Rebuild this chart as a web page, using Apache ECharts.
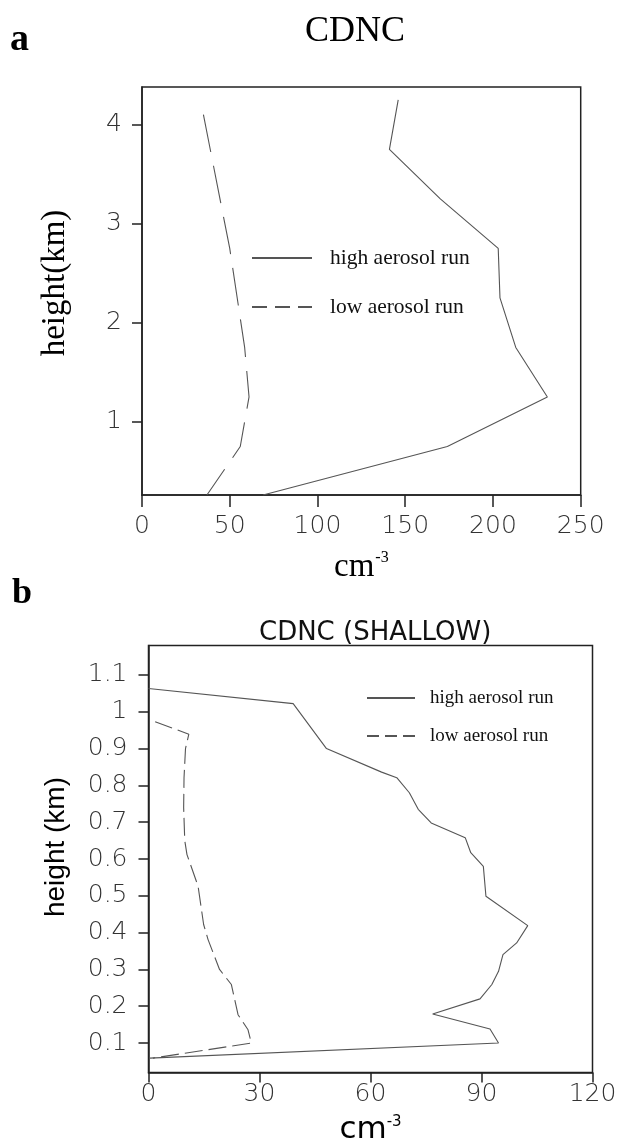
<!DOCTYPE html>
<html>
<head>
<meta charset="utf-8">
<script src="https://cdn.jsdelivr.net/npm/echarts@6/dist/echarts.min.js"></script>
<style>
  html, body { margin: 0; padding: 0; background: #fff; }
  #chart { width: 619px; height: 1138px; }
</style>
</head>
<body>
<div id="chart"></div>
<script>
// Panel a: CDNC profiles (cm^-3) against height (km)
const heightA_high = [4.25, 3.75, 3.25, 2.75, 2.25, 1.75, 1.25, 0.75, 0.26];
const cdncA_high   = [146, 141, 170, 203, 204, 213, 231, 174, 69];
const heightA_low  = [4.1, 2.75, 1.75, 1.25, 0.75, 0.26];
const cdncA_low    = [35, 50, 58.5, 61, 56, 37];
const ticksA_y     = [1, 2, 3, 4];

// Panel b: shallow-cloud CDNC profiles
const heightB_high = [1.063, 1.022, 0.900, 0.836, 0.821, 0.780, 0.735, 0.698, 0.658, 0.617, 0.580,
                      0.499, 0.419, 0.372, 0.340, 0.295, 0.259, 0.220, 0.179, 0.138, 0.100, 0.059];
const cdncB_high   = [0, 39.1, 48.1, 63.0, 67.1, 70.5, 72.9, 76.4, 85.6, 87.1, 90.5,
                      91.2, 102.5, 99.5, 95.8, 94.6, 92.8, 89.6, 76.8, 92.3, 94.6, 0.3];
const heightB_low  = [0.973, 0.939, 0.900, 0.820, 0.740, 0.650, 0.612, 0.526, 0.422, 0.381,
                      0.300, 0.259, 0.177, 0.136, 0.100, 0.059];
const cdncB_low    = [1.8, 10.9, 10.0, 9.6, 9.5, 9.8, 10.4, 13.4, 14.9, 16.1,
                      19.2, 22.4, 24.2, 26.9, 27.8, 1.2];
const ticksB_y     = [0.1, 0.2, 0.3, 0.4, 0.5, 0.6, 0.7, 0.8, 0.9, 1.0, 1.1];

const seriesNames = ['high aerosol run', 'low aerosol run'];

const pairs = (xs, ys) => xs.map((x, i) => [x, ys[i]]);

const SERIF = '"Liberation Serif", "Times New Roman", serif';
const SANS = '"DejaVu Sans", sans-serif';
const AXIS_COLOR = '#222';
const LINE_COLOR = '#555';

function tickLabelStyle(margin) {
  return { fontFamily: SANS, fontWeight: 200, fontSize: 25, color: '#333', margin: margin };
}

const chart = echarts.init(document.getElementById('chart'), null, { renderer: 'canvas' });

chart.setOption({
  animation: false,
  backgroundColor: '#fff',
  title: [
    { text: 'a', left: 10, top: 21, padding: 0,
      textStyle: { fontFamily: SERIF, fontWeight: 'bold', fontSize: 38, color: '#000' } },
    { text: 'CDNC', left: 305, top: 14, padding: 0,
      textStyle: { fontFamily: SERIF, fontWeight: 'normal', fontSize: 36, color: '#000' } },
    { text: 'b', left: 12, top: 576, padding: 0,
      textStyle: { fontFamily: SERIF, fontWeight: 'bold', fontSize: 36, color: '#000' } },
    { text: 'CDNC (SHALLOW)', left: 259, top: 620, padding: 0,
      textStyle: { fontFamily: SANS, fontWeight: 'normal', fontSize: 26, color: '#111' } }
  ],
  legend: [
    {
      orient: 'vertical', left: 251, top: 246, padding: 0,
      itemWidth: 60, itemHeight: 14, itemGap: 25,
      selectedMode: false,
      itemStyle: { opacity: 0 },
      textStyle: { fontFamily: SERIF, fontSize: 21.5, lineHeight: 24, color: '#111', padding: [0, 0, 0, 13] },
      data: [
        { name: seriesNames[0] },
        { name: seriesNames[1], lineStyle: { type: [15, 8] } }
      ]
    },
    {
      orient: 'vertical', left: 366, top: 688, padding: 0,
      itemWidth: 48, itemHeight: 12, itemGap: 18,
      selectedMode: false,
      itemStyle: { opacity: 0 },
      textStyle: { fontFamily: SERIF, fontSize: 19, lineHeight: 20, color: '#111', padding: [0, 0, 0, 10] },
      data: [
        { name: seriesNames[0] + ' ' },
        { name: seriesNames[1] + ' ', lineStyle: { type: [12, 6] } }
      ]
    }
  ],
  grid: [
    { left: 142, top: 87, width: 438.7, height: 408, show: true, outerBoundsMode: 'none',
      borderColor: AXIS_COLOR, borderWidth: 1.5, backgroundColor: 'transparent' },
    { left: 148.5, top: 645.5, width: 444, height: 427, show: true, outerBoundsMode: 'none',
      borderColor: AXIS_COLOR, borderWidth: 1.5, backgroundColor: 'transparent' }
  ],
  xAxis: [
    {
      gridIndex: 0, type: 'value', min: 0, max: 250, interval: 50,
      axisLine: { show: true, onZero: false, lineStyle: { color: AXIS_COLOR, width: 1.5 } },
      axisTick: { show: true, length: 12, lineStyle: { color: AXIS_COLOR, width: 1.5 } },
      splitLine: { show: false },
      axisLabel: tickLabelStyle(19),
      name: '{m|cm}{s|-3}', nameLocation: 'middle', nameGap: 55,
      nameTextStyle: {
        rich: {
          m: { fontFamily: SERIF, fontSize: 33, color: '#000', lineHeight: 34 },
          s: { fontFamily: SERIF, fontSize: 16, color: '#000', verticalAlign: 'top', lineHeight: 34, padding: [0, 0, 0, 1] }
        }
      }
    },
    {
      gridIndex: 1, type: 'value', min: 0, max: 120, interval: 30,
      axisLine: { show: true, onZero: false, lineStyle: { color: AXIS_COLOR, width: 1.5 } },
      axisTick: { show: true, length: 10, lineStyle: { color: AXIS_COLOR, width: 1.5 } },
      splitLine: { show: false },
      axisLabel: tickLabelStyle(9),
      name: '{m|cm}{s|-3}', nameLocation: 'middle', nameGap: 42,
      nameTextStyle: {
        rich: {
          m: { fontFamily: SANS, fontSize: 31, color: '#000', lineHeight: 30 },
          s: { fontFamily: SANS, fontSize: 15, color: '#000', verticalAlign: 'top', lineHeight: 30 }
        }
      }
    }
  ],
  yAxis: [
    {
      gridIndex: 0, type: 'value', min: 0.26, max: 4.38,
      axisLine: { show: true, onZero: false, lineStyle: { color: AXIS_COLOR, width: 1.5 } },
      axisTick: { show: true, length: 10, customValues: ticksA_y, lineStyle: { color: AXIS_COLOR, width: 1.5 } },
      splitLine: { show: false },
      axisLabel: Object.assign(tickLabelStyle(20), { customValues: ticksA_y }),
      name: 'height(km)', nameLocation: 'middle', nameRotate: 90, nameGap: 70,
      nameTextStyle: { fontFamily: SERIF, fontSize: 33, color: '#000', padding: [0, 0, 0, 16] }
    },
    {
      gridIndex: 1, type: 'value', min: 0.02, max: 1.18,
      axisLine: { show: true, onZero: false, lineStyle: { color: AXIS_COLOR, width: 1.5 } },
      axisTick: { show: true, length: 10, customValues: ticksB_y, lineStyle: { color: AXIS_COLOR, width: 1.5 } },
      splitLine: { show: false },
      axisLabel: Object.assign(tickLabelStyle(21), {
        customValues: ticksB_y,
        formatter: v => String(Math.round(v * 10) / 10)
      }),
      name: 'height (km)', nameLocation: 'middle', nameRotate: 90, nameGap: 78,
      nameTextStyle: {
        fontFamily: '"Liberation Sans Narrow", "Liberation Sans", Arial, sans-serif',
        fontSize: 28, color: '#000', padding: [0, 0, 0, 24]
      }
    }
  ],
  series: [
    { name: seriesNames[0], type: 'line', xAxisIndex: 0, yAxisIndex: 0,
      data: pairs(cdncA_high, heightA_high), symbol: 'none', silent: true,
      lineStyle: { color: LINE_COLOR, width: 1.1 }, itemStyle: { color: LINE_COLOR } },
    { name: seriesNames[1], type: 'line', xAxisIndex: 0, yAxisIndex: 0,
      data: pairs(cdncA_low, heightA_low), symbol: 'none', silent: true,
      lineStyle: { color: LINE_COLOR, width: 1.1, type: [38, 14] }, itemStyle: { color: LINE_COLOR } },
    { name: seriesNames[0] + ' ', type: 'line', xAxisIndex: 1, yAxisIndex: 1,
      data: pairs(cdncB_high, heightB_high), symbol: 'none', silent: true,
      lineStyle: { color: LINE_COLOR, width: 1.1 }, itemStyle: { color: LINE_COLOR } },
    { name: seriesNames[1] + ' ', type: 'line', xAxisIndex: 1, yAxisIndex: 1,
      data: pairs(cdncB_low, heightB_low), symbol: 'none', silent: true,
      lineStyle: { color: LINE_COLOR, width: 1.1, type: [18, 6] }, itemStyle: { color: LINE_COLOR } }
  ]
});
</script>
</body>
</html>
